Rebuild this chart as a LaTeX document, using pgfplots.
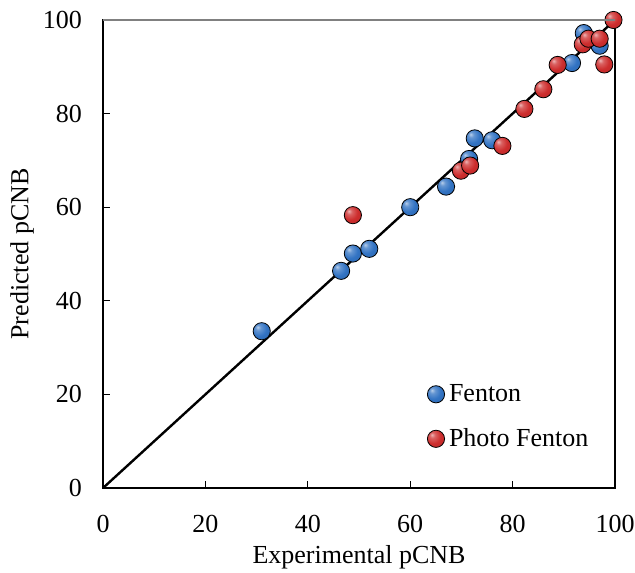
\documentclass[border=0pt]{standalone}
\usepackage{pgfplots}
\pgfplotsset{compat=1.18}
\usepackage{fontspec}
\setmainfont{Liberation Serif}
\definecolor{fblue}{RGB}{50,115,195}
\definecolor{fred}{RGB}{205,45,45}
\makeatletter
\pgfdeclareradialshading[tikz@ball]{ball}{\pgfqpoint{-12bp}{12bp}}{%
  color(0bp)=(tikz@ball!35!white);
  color(8bp)=(tikz@ball!75!white);
  color(22bp)=(tikz@ball);
  color(40bp)=(tikz@ball!90!black);
  color(52bp)=(tikz@ball!70!black);
  color(70bp)=(tikz@ball!65!black)}
\makeatother
\begin{document}
\begin{tikzpicture}
\begin{axis}[
  scale only axis,
  width=256pt, height=234pt,
  xmin=0, xmax=100, ymin=0, ymax=100,
  xtick={0,20,...,100}, ytick={0,20,...,100},
  tick align=inside,
  xtick pos=bottom, ytick pos=left,
  major tick length=3.5pt,
  tick style={black, line width=0.6pt},
  axis line style={line width=0.8pt},
  clip=false,
  /pgf/number format/assume math mode=true,
  tick label style={font=\fontsize{13}{15}\selectfont},
  xticklabel style={yshift=-10pt},
  yticklabel style={xshift=-7pt},
  label style={font=\fontsize{13}{15}\selectfont},
  xlabel={Experimental pCNB},
  ylabel={Predicted pCNB},
  xlabel style={at={(rel axis cs:0.5,-0.147)}, anchor=center},
  ylabel style={at={(rel axis cs:-0.158,0.5)}, anchor=center},
  legend style={at={(rel axis cs:0.632,0.231)}, anchor=north west, draw=none, fill=none,
    font=\fontsize{13}{15}\selectfont, row sep=8pt, inner sep=0pt},
  legend cell align=left,
  legend image code/.code={\draw[#1] plot coordinates {(0.05cm,0cm)};},
]
\draw[line width=1.2pt, black] (axis cs:0,0) -- (axis cs:100,100);
\addplot[only marks, mark=ball, mark size=4.3pt, ball color=fblue, mark options={draw=none}] coordinates {
(31,33.5) (46.5,46.4) (48.8,50.1) (52,51.1) (60,60) (67,64.4)
(71.5,70.3) (72.6,74.7) (76,74.3) (91.6,90.8) (93.9,97.2) (97,94.5)
};
\addlegendentry{Fenton}
\addplot[only marks, mark=ball, mark size=4.3pt, ball color=fred, mark options={draw=none}] coordinates {
(48.8,58.3) (69.9,67.8) (71.7,68.9) (78,73.1) (82.3,81) (86,85.2)
(88.8,90.4) (93.7,94.8) (94.8,96) (97,96) (97.9,90.5) (99.7,100)
};
\addlegendentry{Photo Fenton}
\coordinate (bbsw) at (rel axis cs:-0.2012,-0.1795);
\coordinate (bbne) at (rel axis cs:1.039,1.0427);
\end{axis}
\draw[gray, line width=0.8pt] (current axis.north west) -- (current axis.north east);
\pgfresetboundingbox
\path (bbsw) rectangle (bbne);
\end{tikzpicture}
\end{document}
